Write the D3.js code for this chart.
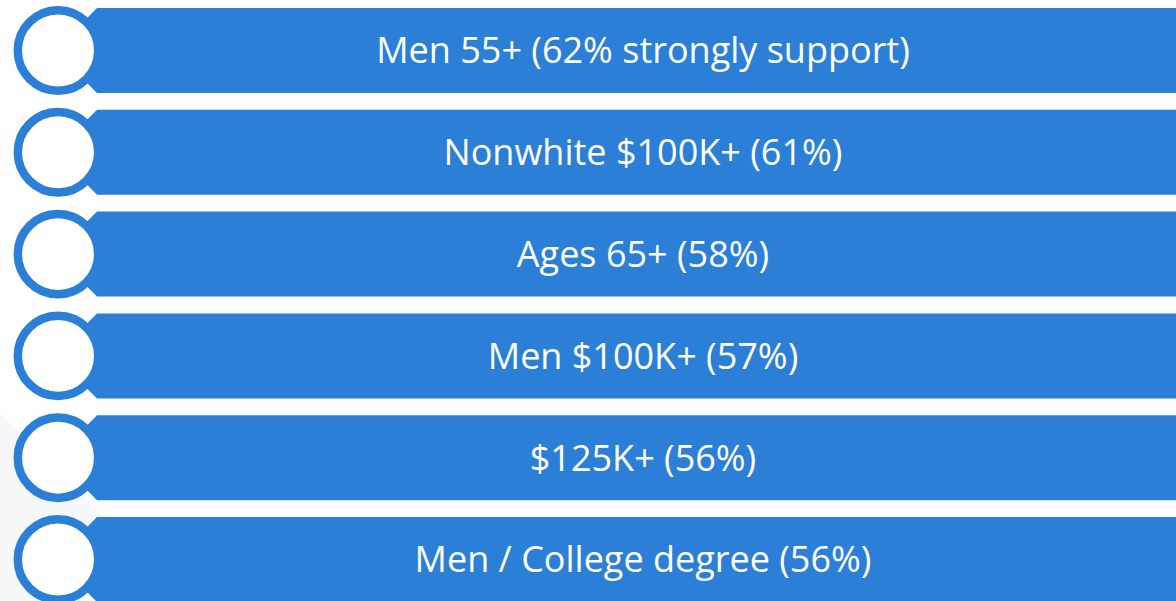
<!DOCTYPE html>
<html>
<head>
<meta charset="utf-8">
<script src="https://cdn.jsdelivr.net/npm/d3@7"></script>
<style>
  html, body { margin: 0; padding: 0; background: #ffffff; }
  svg { display: block; }
  .label { font-family: "Open Sans", "Noto Sans", sans-serif; fill: #ffffff; }
</style>
</head>
<body>
<div id="chart"></div>
<script>
// groups + share who strongly support
var groups = ['Men 55+', 'Nonwhite $100K+', 'Ages 65+', 'Men $100K+', '$125K+', 'Men / College degree'];
var values = [62, 61, 58, 57, 56, 56];
var suffix = [' strongly support', '', '', '', '', ''];

var width = 1176, height = 601;
var blue = '#2b7fd6';

var svg = d3.select('#chart').append('svg')
    .attr('width', width)
    .attr('height', height);

// faint grey wedge in the lower left corner
svg.append('path')
    .attr('d', 'M0,413 L220,633 L0,633 Z')
    .attr('fill', '#f6f7f9');

var y = d3.scaleBand()
    .domain(groups)
    .range([8, 602])
    .paddingInner(0.165)
    .paddingOuter(0);

var cx = 58, tip = 55, barX = 97, barEnd = 1200;
var textX = 643;

var row = svg.append('g')
    .selectAll('g')
    .data(groups)
    .enter()
    .append('g')
    .attr('transform', d => `translate(0,${y(d)})`);

var bh = y.bandwidth();

// bar with a chevron end tucked behind the ring
row.append('path')
    .attr('fill', blue)
    .attr('d', `M${tip},${bh / 2} L${barX},0 L${barEnd},0 L${barEnd},${bh} L${barX},${bh} Z`);

row.append('circle')
    .attr('cx', cx)
    .attr('cy', bh / 2)
    .attr('r', 40.2)
    .attr('fill', '#ffffff')
    .attr('stroke', blue)
    .attr('stroke-width', 8.5);

row.append('text')
    .attr('class', 'label')
    .attr('x', textX)
    .attr('y', bh / 2)
    .attr('dy', '0.36em')
    .attr('text-anchor', 'middle')
    .style('font-size', '36px')
    .text((d, i) => `${d} (${values[i]}%${suffix[i]})`);
</script>
</body>
</html>
